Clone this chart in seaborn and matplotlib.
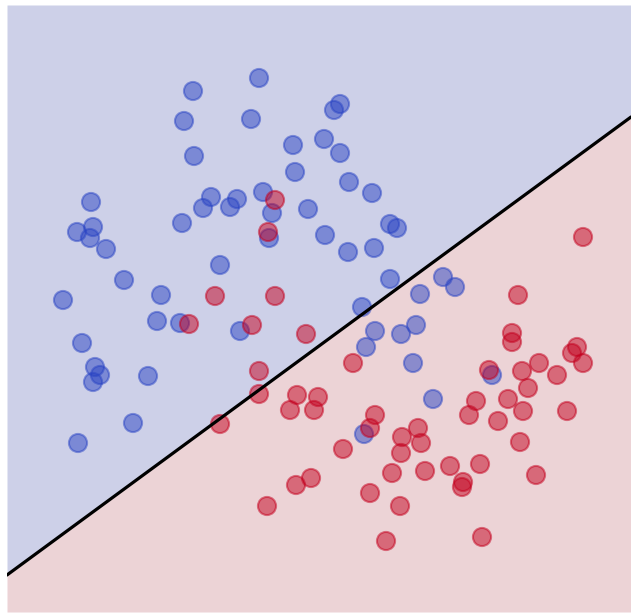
import numpy as np
import pandas as pd
import matplotlib
matplotlib.use("Agg")
import matplotlib.pyplot as plt
import seaborn as sns

# points (pixel-like units, y grows downward)
blue_x = [259, 193, 184, 251, 194, 293, 295, 340, 334, 324, 340, 349, 372, 308,
          390, 397, 325, 348, 374, 390, 420, 443, 455, 362, 91, 77, 93, 90, 106,
          182, 203, 211, 230, 237, 263, 272, 269, 220, 124, 63, 161, 157, 180,
          240, 82, 95, 100, 93, 148, 133, 78, 375, 366, 401, 416, 413, 433, 492, 364]
blue_y = [78, 91, 121, 119, 156, 145, 172, 104, 110, 139, 153, 182, 193, 209,
          224, 228, 235, 252, 248, 279, 294, 277, 287, 307, 202, 232, 227, 238, 249,
          223, 208, 197, 207, 199, 192, 213, 238, 265, 280, 300, 295, 321, 323,
          331, 343, 367, 375, 382, 376, 423, 443, 331, 347, 334, 325, 363, 399, 375, 434]

red_x = [275, 268, 215, 275, 583, 518, 189, 252, 306, 259, 259, 220, 297, 290,
         318, 314, 296, 311, 267, 353, 512, 512, 577, 572, 583, 522, 539, 557,
         528, 508, 476, 469, 523, 498, 567, 520, 375, 370, 343, 402, 401, 418,
         421, 392, 425, 450, 480, 463, 462, 536, 370, 400, 386, 482, 489]
red_y = [200, 232, 296, 296, 237, 295, 324, 325, 334, 371, 394, 424, 395, 410,
         397, 410, 485, 478, 506, 363, 333, 342, 347, 353, 363, 371, 363, 375,
         388, 399, 401, 415, 411, 421, 411, 442, 415, 428, 449, 437, 453, 428,
         443, 473, 471, 466, 464, 482, 487, 475, 493, 506, 541, 537, 370]

# decision boundary end points
boundary_x = [7, 631]
boundary_y = [575, 117]

df = pd.DataFrame({
    "x": blue_x + red_x,
    "y": blue_y + red_y,
    "cls": ["blue"] * len(blue_x) + ["red"] * len(red_x),
})

sns.set_style("white")
fig = plt.figure(figsize=(6.31, 6.14), dpi=100)
ax = fig.add_axes([7 / 631, 2 / 614, 624 / 631, 607 / 614])

xs = np.array(boundary_x, dtype=float)
ys = np.array(boundary_y, dtype=float)
ax.fill_between(xs, ys, 5, color="#cdd0e8", lw=0)
ax.fill_between(xs, 612, ys, color="#ecd3d6", lw=0)

sns.scatterplot(data=df, x="x", y="y", hue="cls",
                palette={"blue": "#2a44c4", "red": "#c4001e"},
                s=170, alpha=0.5, edgecolor="face", linewidth=1.5,
                legend=False, ax=ax)
ax.plot(boundary_x, boundary_y, color="black", lw=2.3)

ax.set_xlim(7, 631)
ax.set_ylim(612, 5)
ax.set_axis_off()

fig.savefig("out.png", dpi=100, facecolor="white")
